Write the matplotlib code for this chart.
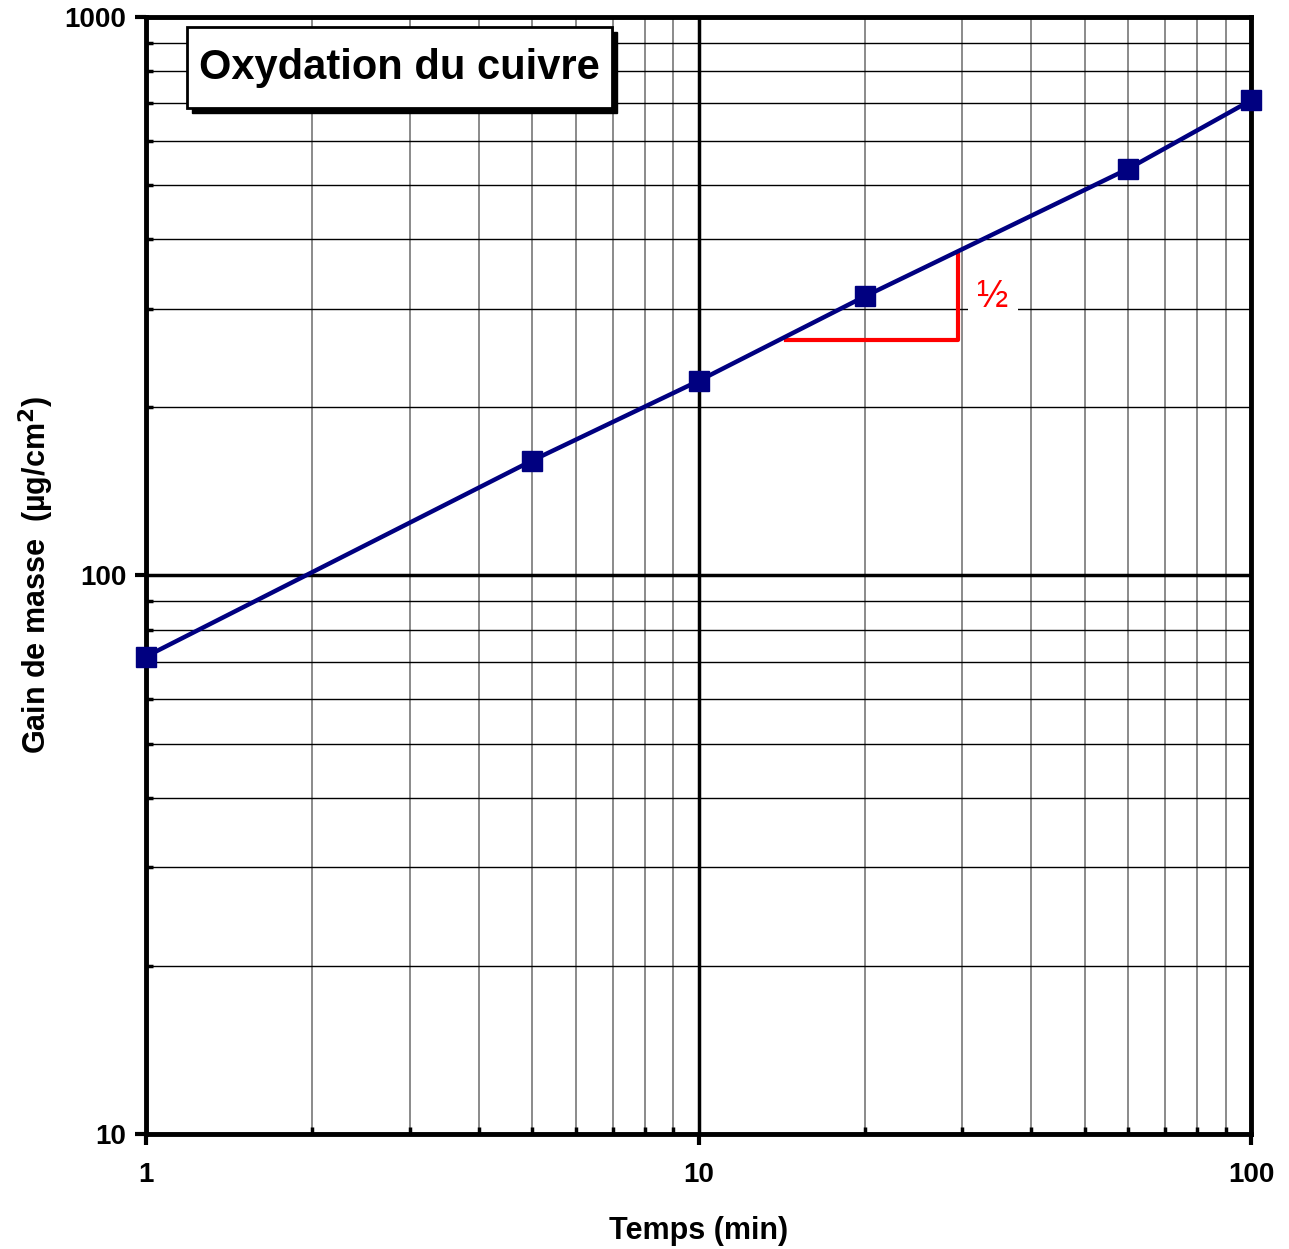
import matplotlib.pyplot as plt
from matplotlib.patches import Rectangle
from matplotlib.ticker import LogLocator, NullFormatter

# Données
temps = [1, 5, 10, 20, 60, 100]
gain = [71.6, 160.6, 223, 316, 535, 709]

# Triangle de pente
pente_x = [14.4, 29.5, 29.5]
pente_y = [264, 264, 377]

plt.rcParams['font.family'] = ['Liberation Sans', 'DejaVu Sans']
plt.rcParams['font.weight'] = 'bold'

W, H = 1289, 1249
fig = plt.figure(figsize=(W / 100, H / 100), dpi=100)
ax = fig.add_axes([0.1133, 0.0921, 0.8572, 0.8943])
ax.set_xscale('log')
ax.set_yscale('log')
ax.set_xlim(1, 100)
ax.set_ylim(10, 1000)

# Grille
ax.xaxis.set_minor_locator(LogLocator(base=10, subs=range(2, 10)))
ax.yaxis.set_minor_locator(LogLocator(base=10, subs=range(2, 10)))
ax.xaxis.set_minor_formatter(NullFormatter())
ax.yaxis.set_minor_formatter(NullFormatter())
ax.grid(True, which='major', color='black', lw=2.5, zorder=1)
ax.grid(True, which='minor', axis='x', color='#777777', lw=1.2, zorder=1)
ax.grid(True, which='minor', axis='y', color='black', lw=1.0, zorder=1)
ax.set_axisbelow(True)

for s in ax.spines.values():
    s.set_linewidth(3.5)

ax.tick_params(which='major', direction='out', length=8, width=3, labelsize=20, pad=6)
ax.tick_params(which='minor', direction='in', length=5, width=2.5)
ax.set_xticks([1, 10, 100])
ax.set_xticklabels(['1', '10', '100'])
ax.set_yticks([10, 100, 1000])
ax.set_yticklabels(['10', '100', '1000'])
ax.tick_params(axis='x', pad=12)

ax.plot(temps, gain, color='#000080', lw=3.2, marker='s', markersize=14,
        markerfacecolor='#000080', markeredgecolor='#000080', zorder=5, clip_on=False)

ax.plot(pente_x, pente_y, color='red', lw=3, zorder=4)
ax.text(34.1, 315, '½', color='red', fontsize=27, fontweight='normal',
        ha='center', va='center', zorder=4,
        bbox=dict(boxstyle='square,pad=0.25', fc='white', ec='none'))

ax.set_xlabel('Temps (min)', fontsize=22, fontweight='bold', labelpad=20)
ax.set_ylabel('Gain de masse  (µg/cm$^\\mathbf{2}$)', fontsize=22, fontweight='bold', labelpad=6)

# Titre dans un cadre avec ombre
bx0, bx1, by0, by1 = 187, 612, 27, 108
off = 5
fig.patches.append(Rectangle(((bx0 + off) / W, 1 - (by1 + off) / H), (bx1 - bx0) / W, (by1 - by0) / H,
                             transform=fig.transFigure, fc='black', ec='black', zorder=9))
fig.patches.append(Rectangle((bx0 / W, 1 - by1 / H), (bx1 - bx0) / W, (by1 - by0) / H,
                             transform=fig.transFigure, fc='white', ec='black', lw=2, zorder=10))
fig.text((bx0 + bx1) / 2 / W, 1 - (by0 + by1) / 2 / H, 'Oxydation du cuivre', fontsize=30,
         fontweight='bold', color='black', ha='center', va='center', zorder=11)

plt.savefig('out.png', dpi=100)
